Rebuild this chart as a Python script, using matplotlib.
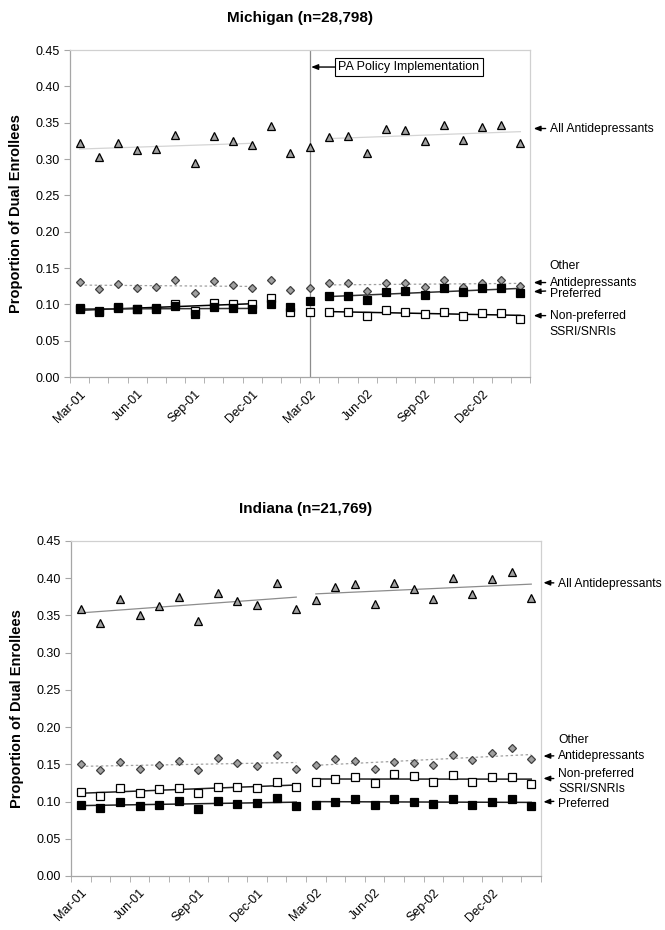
import numpy as np
import matplotlib
matplotlib.use('Agg')
import matplotlib.pyplot as plt

plt.rcParams['font.family'] = ['Liberation Sans', 'DejaVu Sans']

# Months on the x axis (Mar-01 .. Feb-03)
months = ['Mar-01', 'Apr-01', 'May-01', 'Jun-01', 'Jul-01', 'Aug-01', 'Sep-01', 'Oct-01',
          'Nov-01', 'Dec-01', 'Jan-02', 'Feb-02', 'Mar-02', 'Apr-02', 'May-02', 'Jun-02',
          'Jul-02', 'Aug-02', 'Sep-02', 'Oct-02', 'Nov-02', 'Dec-02', 'Jan-03', 'Feb-03']
yticks = [0.00, 0.05, 0.10, 0.15, 0.20, 0.25, 0.30, 0.35, 0.40, 0.45]

# Michigan
mi_all = [0.322, 0.303, 0.322, 0.312, 0.314, 0.333, 0.295, 0.332, 0.325, 0.319, 0.345, 0.308,
          0.316, 0.330, 0.332, 0.308, 0.341, 0.340, 0.325, 0.347, 0.326, 0.344, 0.347, 0.322]
mi_other = [0.131, 0.121, 0.128, 0.123, 0.124, 0.133, 0.115, 0.132, 0.127, 0.122, 0.134, 0.120,
            0.122, 0.130, 0.129, 0.118, 0.130, 0.129, 0.124, 0.133, 0.124, 0.130, 0.134, 0.125]
mi_pref = [0.095, 0.090, 0.096, 0.094, 0.094, 0.098, 0.087, 0.097, 0.095, 0.094, 0.100, 0.096,
           0.104, 0.111, 0.112, 0.106, 0.117, 0.119, 0.113, 0.123, 0.117, 0.123, 0.123, 0.116]
mi_nonpref = [0.094, 0.091, 0.095, 0.094, 0.095, 0.100, 0.091, 0.102, 0.101, 0.101, 0.109, 0.090,
              0.089, 0.089, 0.090, 0.084, 0.092, 0.090, 0.087, 0.090, 0.084, 0.088, 0.088, 0.080]
mi_segments = [(0, 9), (13, 23)]   # trend line periods (washout Jan-Mar 02)
mi_policy = 12                     # Mar-02

# Indiana
in_all = [0.358, 0.340, 0.372, 0.351, 0.363, 0.375, 0.343, 0.380, 0.369, 0.364, 0.394, 0.359,
          0.371, 0.388, 0.392, 0.365, 0.393, 0.385, 0.372, 0.400, 0.379, 0.399, 0.408, 0.374]
in_other = [0.150, 0.142, 0.153, 0.144, 0.149, 0.154, 0.142, 0.158, 0.152, 0.148, 0.162, 0.144,
            0.149, 0.157, 0.155, 0.144, 0.153, 0.152, 0.149, 0.162, 0.156, 0.165, 0.172, 0.157]
in_nonpref = [0.113, 0.107, 0.118, 0.112, 0.117, 0.118, 0.112, 0.119, 0.120, 0.118, 0.126, 0.120,
              0.126, 0.130, 0.133, 0.125, 0.137, 0.134, 0.126, 0.135, 0.126, 0.133, 0.133, 0.124]
in_pref = [0.095, 0.091, 0.100, 0.094, 0.096, 0.101, 0.090, 0.101, 0.097, 0.098, 0.105, 0.094,
           0.096, 0.100, 0.104, 0.096, 0.103, 0.100, 0.097, 0.103, 0.096, 0.100, 0.103, 0.094]
in_segments = [(0, 11), (12, 23)]

x = np.arange(len(months))
axis_gray = '#a6a6a6'
lab_size = 8.7
arrow_style = '-|>,head_length=0.45,head_width=0.18'


def trend(ax, y, segments, **kw):
    # linear fit over each period
    y = np.asarray(y)
    for a, b in segments:
        xs = x[a:b + 1]
        p = np.polyfit(xs, y[a:b + 1], 1)
        ax.plot(xs, np.polyval(p, xs), zorder=2, **kw)


def side_label(ax, text, y_arrow, y_text=None, sub=None, sub_dy=0, tip=1.008, tx=1.043, rel=0.5):
    if y_text is None:
        y_text = y_arrow
    ax.annotate(text, xy=(tip, y_arrow), xycoords=('axes fraction', 'data'),
                xytext=(tx, y_text), textcoords=('axes fraction', 'data'),
                ha='left', va='center', fontsize=lab_size,
                arrowprops=dict(arrowstyle=arrow_style, color='black', lw=1.0,
                                shrinkA=1, shrinkB=0, relpos=(0, rel)))
    if sub is not None:
        ax.annotate(sub, xy=(tx, y_text), xycoords=('axes fraction', 'data'),
                    xytext=(0, sub_dy), textcoords='offset points',
                    ha='left', va='center', fontsize=lab_size)


def setup(ax, title):
    ax.set_xlim(-0.5, len(months) - 0.5)
    ax.set_ylim(0, 0.45)
    ax.set_yticks(yticks)
    ax.set_yticklabels(['%.2f' % v for v in yticks])
    ax.set_xticks(x[::3])
    ax.set_xticklabels(months[::3], rotation=45, ha='right', rotation_mode='anchor')
    ax.set_xticks(np.arange(-0.5, len(months), 1.0), minor=True)
    ax.tick_params(axis='x', which='major', length=0, pad=8, labelsize=9)
    ax.tick_params(axis='x', which='minor', length=4, color=axis_gray)
    ax.tick_params(axis='y', length=4, color=axis_gray, labelsize=9)
    for s in ax.spines.values():
        s.set_color(axis_gray)
        s.set_linewidth(0.9)
    for s in ['top', 'right']:
        ax.spines[s].set_color('#d0d0d0')
    ax.set_ylabel('Proportion of Dual Enrollees', fontsize=10.5, fontweight='bold', labelpad=9)
    ax.set_title(title, fontsize=11, fontweight='bold', pad=20)


def points(ax, all_, other, nonpref, pref):
    ax.plot(x, all_, '^', ms=5.5, mfc='#a0a0a0', mec='black', mew=0.9, zorder=3)
    ax.plot(x, other, 'D', ms=4.2, mfc='#a0a0a0', mec='#404040', mew=0.9, zorder=3)
    ax.plot(x, nonpref, 's', ms=5.2, mfc='white', mec='black', mew=0.9, zorder=3)
    ax.plot(x, pref, 's', ms=5.2, mfc='black', mec='black', mew=0.9, zorder=4)


fig = plt.figure(figsize=(6.65, 9.3), dpi=100)

## Michigan panel
ax1 = fig.add_axes([0.1053, 0.5946, 0.6917, 0.3516])
setup(ax1, 'Michigan (n=28,798)')
ax1.axvline(mi_policy, color='#8c8c8c', lw=0.9, zorder=1)
trend(ax1, mi_all, mi_segments, color='#d4d4d4', lw=0.9)
trend(ax1, mi_other, mi_segments, color='#a0a0a0', lw=0.9, ls=(0, (2, 2)))
trend(ax1, mi_nonpref, mi_segments, color='black', lw=1.1)
trend(ax1, mi_pref, mi_segments, color='#303030', lw=1.1)
points(ax1, mi_all, mi_other, mi_nonpref, mi_pref)
ax1.annotate('PA Policy Implementation', xy=(mi_policy + 0.08, 0.4266), xytext=(13.5, 0.4266),
             ha='left', va='center', fontsize=9,
             bbox=dict(boxstyle='square,pad=0.25', fc='white', ec='black', lw=0.8),
             arrowprops=dict(arrowstyle=arrow_style, color='black', lw=1.0, shrinkA=0, shrinkB=0))
side_label(ax1, 'All Antidepressants', 0.342)
side_label(ax1, 'Antidepressants', 0.130, sub='Other', sub_dy=12)
side_label(ax1, 'Preferred', 0.1175, y_text=0.1145, rel=0.75)
side_label(ax1, 'Non-preferred', 0.0845, sub='SSRI/SNRIs', sub_dy=-12)

## Indiana panel
ax2 = fig.add_axes([0.1068, 0.0581, 0.7068, 0.3602])
setup(ax2, 'Indiana (n=21,769)')
trend(ax2, in_all, in_segments, color='#8c8c8c', lw=0.9)
trend(ax2, in_other, in_segments, color='#a0a0a0', lw=0.9, ls=(0, (2, 2)))
trend(ax2, in_nonpref, in_segments, color='#202020', lw=1.1)
trend(ax2, in_pref, in_segments, color='#202020', lw=1.1)
points(ax2, in_all, in_other, in_nonpref, in_pref)
side_label(ax2, 'All Antidepressants', 0.394, y_text=0.392, tip=1.005, tx=1.036, rel=0.6)
side_label(ax2, 'Antidepressants', 0.161, y_text=0.1615, sub='Other', sub_dy=11,
           tip=1.005, tx=1.036)
side_label(ax2, 'Non-preferred', 0.131, y_text=0.1365, sub='SSRI/SNRIs', sub_dy=-10.5,
           tip=1.005, tx=1.036, rel=0.15)
side_label(ax2, 'Preferred', 0.0995, y_text=0.0965, tip=1.005, tx=1.036, rel=0.75)

plt.savefig('out.png', dpi=100)
